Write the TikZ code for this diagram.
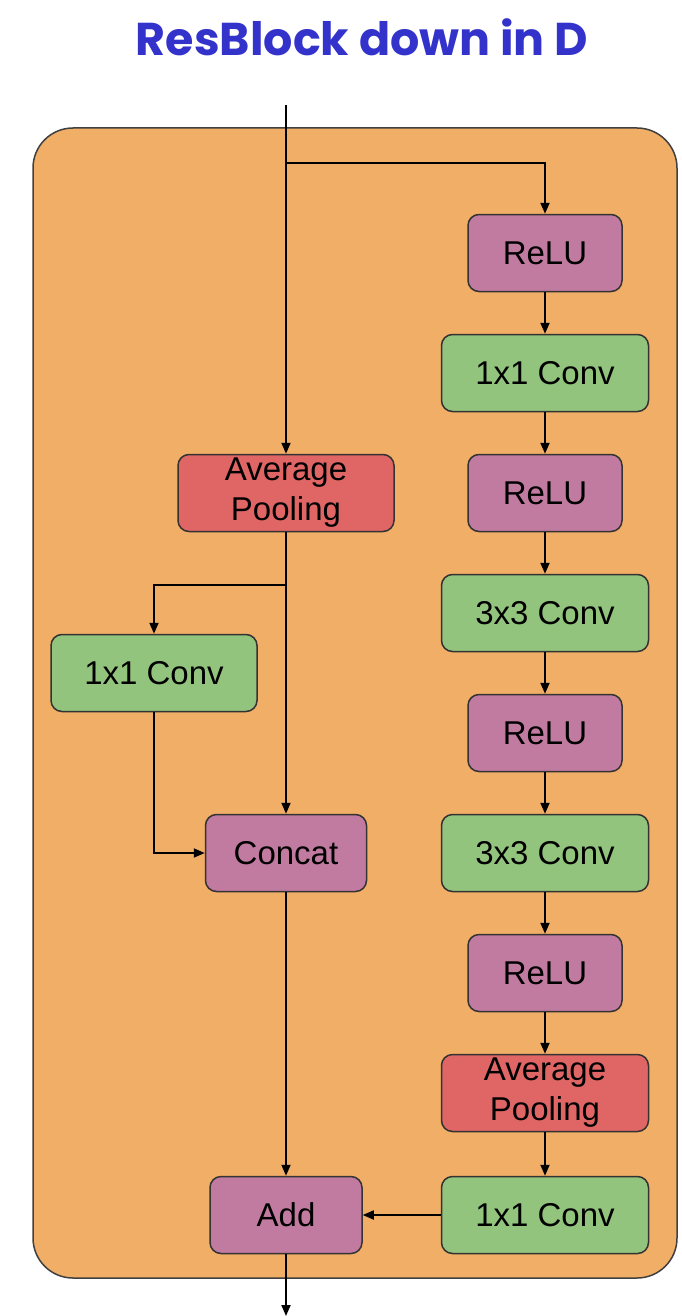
\documentclass[tikz,border=0pt]{standalone}
\usepackage{fontspec}
\setmainfont{Liberation Sans}
\newfontfamily\titlefont{Poppins}
\usetikzlibrary{arrows.meta}
\definecolor{blockbg}{HTML}{F1AE66}
\definecolor{relufill}{HTML}{C27BA0}
\definecolor{convfill}{HTML}{93C47D}
\definecolor{poolfill}{HTML}{E06666}
\definecolor{titleblue}{HTML}{3333CC}
\tikzset{
  box/.style={draw=black!80, line width=1.5pt, rounded corners=11pt,
    minimum height=77pt, inner sep=0pt, align=center,
    font=\fontsize{33}{40}\selectfont},
  relu/.style={box, fill=relufill, minimum width=154pt},
  conv/.style={box, fill=convfill, minimum width=207pt},
  pool/.style={box, fill=poolfill, minimum width=207pt},
  arr/.style={line width=1.8pt, -{Triangle[length=11pt,width=9pt]}},
  wire/.style={line width=1.8pt},
}
\begin{document}
\begin{tikzpicture}[x=1pt,y=-1pt]
\useasboundingbox (0,0) rectangle (681,1316);

% title
\node[font=\titlefont\bfseries\fontsize{46}{50}\selectfont, text=titleblue] (title) at (362,37) {ResBlock down in D};

% block background
\draw[fill=blockbg, draw=black!75, line width=1.5pt, rounded corners=40pt] (33,128) rectangle (677,1278);

% right branch
\node[relu] (r1) at (545,253) {ReLU};
\node[conv] (c1) at (545,373) {1x1 Conv};
\node[relu] (r2) at (545,493) {ReLU};
\node[conv] (c2) at (545,613) {3x3 Conv};
\node[relu] (r3) at (545,733) {ReLU};
\node[conv] (c3) at (545,853) {3x3 Conv};
\node[relu] (r4) at (545,973) {ReLU};
\node[pool] (p2) at (545,1093) {Average\\Pooling};
\node[conv] (c4) at (545,1215) {1x1 Conv};

% left branch
\node[pool, minimum width=216pt] (p1) at (286,493) {Average\\Pooling};
\node[conv, minimum width=206pt] (lc) at (154,673) {1x1 Conv};
\node[relu, minimum width=161pt] (cat) at (286,853) {Concat};
\node[relu, minimum width=152pt] (add) at (286,1215) {Add};

% input, output and split points
\coordinate (in) at (286,105);
\coordinate (split) at (286,163);
\coordinate (split2) at (286,585);
\coordinate (out) at (286,1316);

% connectors
\draw[arr] (in) -- (p1);
\draw[arr] (split) -| (r1);
\draw[arr] (r1) -- (c1);
\draw[arr] (c1) -- (r2);
\draw[arr] (r2) -- (c2);
\draw[arr] (c2) -- (r3);
\draw[arr] (r3) -- (c3);
\draw[arr] (c3) -- (r4);
\draw[arr] (r4) -- (p2);
\draw[arr] (p2) -- (c4);
\draw[arr] (c4) -- (add);
\draw[arr] (p1) -- (cat);
\draw[arr] (split2) -| (lc);
\draw[arr] (lc) |- (cat);
\draw[arr] (cat) -- (add);
\draw[arr] (add) -- (out);
\end{tikzpicture}
\end{document}
